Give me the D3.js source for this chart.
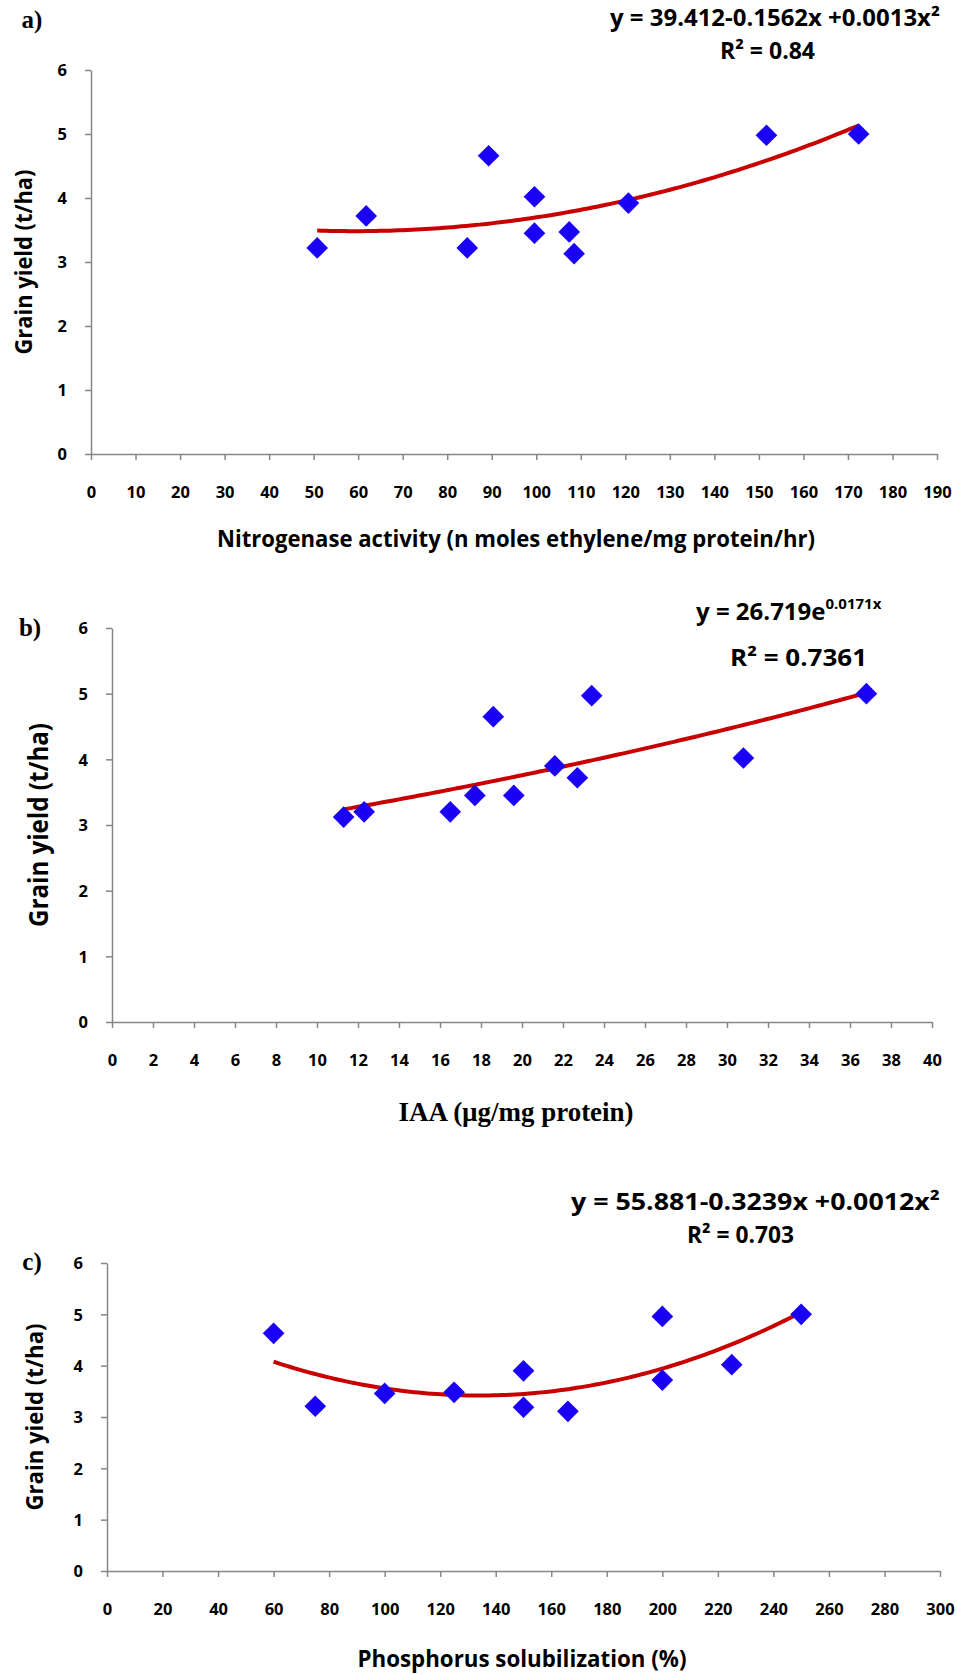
<!DOCTYPE html>
<html>
<head>
<meta charset="utf-8">
<script src="https://cdnjs.cloudflare.com/ajax/libs/d3/7.8.5/d3.min.js"></script>
<style>
body{margin:0;background:#fff;}
svg text{font-family:"Open Sans",sans-serif;font-weight:700;fill:#000;}
</style>
</head>
<body>
<svg id="chart"></svg>
<script>
var WIDTH = 957;
var HEIGHT = 1675;

// grain yield (t/ha) of the 11 treatments against each trait
var nitrogenase = [50.8, 61.8, 84.5, 89.3, 99.6, 99.6, 107.4, 108.5, 120.7, 151.7, 172.4];
var yieldA      = [3.22, 3.72, 3.22, 4.66, 4.02, 3.45, 3.47, 3.13, 3.92, 4.98, 5.0];

var iaa    = [11.3, 12.3, 16.5, 17.7, 18.6, 19.6, 21.6, 22.7, 23.4, 30.8, 36.8];
var yieldB = [3.12, 3.2, 3.2, 3.45, 4.65, 3.45, 3.9, 3.72, 4.97, 4.02, 5.0];

var phosphorus = [60, 75, 100, 125, 150, 150, 166, 200, 200, 225, 250];
var yieldC     = [4.63, 3.21, 3.46, 3.48, 3.9, 3.19, 3.11, 4.96, 3.72, 4.02, 5.0];

var yTicks  = [0, 1, 2, 3, 4, 5, 6];
var xTicksA = [0,10,20,30,40,50,60,70,80,90,100,110,120,130,140,150,160,170,180,190];
var xTicksB = [0,2,4,6,8,10,12,14,16,18,20,22,24,26,28,30,32,34,36,38,40];
var xTicksC = [0,20,40,60,80,100,120,140,160,180,200,220,240,260,280,300];

var svg = d3.select('#chart')
  .attr('width', WIDTH)
  .attr('height', HEIGHT);

// least squares y = c0 + c1 x + c2 x^2 (same as the excel trendline)
var fitPoly2 = function(xs, ys){
  var s = [0,0,0,0,0], t = [0,0,0];
  xs.forEach(function(x, i){
    for (var k = 0; k < 5; k++) s[k] += Math.pow(x, k);
    for (var j = 0; j < 3; j++) t[j] += ys[i] * Math.pow(x, j);
  });
  var m = [[s[0],s[1],s[2],t[0]],[s[1],s[2],s[3],t[1]],[s[2],s[3],s[4],t[2]]];
  for (var c = 0; c < 3; c++){
    for (var r = c + 1; r < 3; r++){
      var f = m[r][c] / m[c][c];
      for (var q = c; q < 4; q++) m[r][q] -= f * m[c][q];
    }
  }
  var b = [0,0,0];
  for (var r2 = 2; r2 >= 0; r2--){
    var v = m[r2][3];
    for (var q2 = r2 + 1; q2 < 3; q2++) v -= m[r2][q2] * b[q2];
    b[r2] = v / m[r2][r2];
  }
  return function(x){ return b[0] + b[1]*x + b[2]*x*x; };
};

// y = a e^(bx), fitted on ln y
var fitExp = function(xs, ys){
  var ly = ys.map(Math.log);
  var mx = d3.mean(xs), my = d3.mean(ly);
  var num = 0, den = 0;
  xs.forEach(function(x, i){ num += (x-mx)*(ly[i]-my); den += (x-mx)*(x-mx); });
  var bb = num/den, aa = Math.exp(my - bb*mx);
  return function(x){ return aa * Math.exp(bb*x); };
};

var panels = [
  {xs: nitrogenase, ys: yieldA, xTicks: xTicksA, fit: fitPoly2,
   left: 91, right: 937, top: 70, bottom: 454,
   label: 'a)', labelX: 32, labelY: 28,
   xTitle: 'Nitrogenase activity (n moles ethylene/mg protein/hr)', xTitleX: 516, xTitleY: 547, xTitleLen: 598, xTitleSize: 24, xTitleSerif: false,
   yTitleX: 32, yTitleLen: 185, yTitleSize: 23},
  {xs: iaa, ys: yieldB, xTicks: xTicksB, fit: fitExp,
   left: 112, right: 932, top: 628, bottom: 1022,
   label: 'b)', labelX: 30, labelY: 636,
   xTitle: 'IAA (µg/mg protein)', xTitleX: 516, xTitleY: 1121, xTitleLen: 235, xTitleSize: 27, xTitleSerif: true,
   yTitleX: 48, yTitleLen: 204, yTitleSize: 26},
  {xs: phosphorus, ys: yieldC, xTicks: xTicksC, fit: fitPoly2,
   left: 107, right: 940, top: 1263, bottom: 1571,
   label: 'c)', labelX: 32, labelY: 1270,
   xTitle: 'Phosphorus  solubilization (%)', xTitleX: 522, xTitleY: 1667, xTitleLen: 329, xTitleSize: 24, xTitleSerif: false,
   yTitleX: 43, yTitleLen: 187, yTitleSize: 23}
];

var AXIS = '#868686';

panels.forEach(function(p){
  var xMax = p.xTicks[p.xTicks.length - 1];
  var xScale = d3.scaleLinear().domain([0, xMax]).range([p.left, p.right]);
  var yScale = d3.scaleLinear().domain([0, 6]).range([p.bottom, p.top]);

  var g = svg.append('g');

  var bottomAxis = d3.axisBottom(xScale).tickValues(p.xTicks).tickFormat(d3.format('d'))
    .tickSizeInner(6).tickSizeOuter(0);
  var gx = g.append('g').attr('transform', 'translate(0,' + p.bottom + ')').call(bottomAxis);
  var leftAxis = d3.axisLeft(yScale).tickValues(yTicks).tickFormat(d3.format('d'))
    .tickSizeInner(6).tickSizeOuter(0);
  var gy = g.append('g').attr('transform', 'translate(' + p.left + ',0)').call(leftAxis);

  [gx, gy].forEach(function(a){
    a.select('.domain').attr('stroke', AXIS).attr('stroke-width', 1.5);
    a.selectAll('.tick line').attr('stroke', AXIS).attr('stroke-width', 1.5);
    a.selectAll('.tick text').style('font-size', '16.5px');
  });
  gx.selectAll('.tick text').attr('y', 38).attr('dy', '0.35em');
  gy.selectAll('.tick text').attr('x', -24).attr('dy', '0.35em');

  // trend line
  var f = p.fit(p.xs, p.ys);
  var x0 = d3.min(p.xs), x1 = d3.max(p.xs);
  var curve = d3.range(121).map(function(i){ var x = x0 + (x1-x0)*i/120; return [x, f(x)]; });
  g.append('path')
    .datum(curve)
    .attr('fill', 'none')
    .attr('stroke', '#c80000')
    .attr('stroke-width', 4)
    .attr('d', d3.line().x(function(d){ return xScale(d[0]); }).y(function(d){ return yScale(d[1]); }));

  // diamonds
  g.selectAll('path.pt')
    .data(p.xs)
    .enter()
    .append('path')
    .attr('class', 'pt')
    .attr('d', d3.symbol(d3.symbolSquare, 235))
    .attr('fill', '#1a00f5')
    .attr('transform', function(d, i){
      return 'translate(' + xScale(d) + ',' + yScale(p.ys[i]) + ') rotate(45)';
    });

  // titles
  g.append('text')
    .attr('x', p.xTitleX).attr('y', p.xTitleY)
    .attr('text-anchor', 'middle')
    .attr('textLength', p.xTitleLen).attr('lengthAdjust', 'spacingAndGlyphs')
    .style('font-size', p.xTitleSize + 'px')
    .style('font-family', p.xTitleSerif ? '"Liberation Serif", serif' : null)
    .text(p.xTitle);

  g.append('text')
    .attr('transform', 'translate(' + p.yTitleX + ',' + ((p.top + p.bottom)/2) + ') rotate(-90)')
    .attr('text-anchor', 'middle')
    .attr('textLength', p.yTitleLen).attr('lengthAdjust', 'spacingAndGlyphs')
    .style('font-size', p.yTitleSize + 'px')
    .text('Grain yield (t/ha)');

  g.append('text')
    .attr('x', p.labelX).attr('y', p.labelY)
    .attr('text-anchor', 'middle')
    .style('font-family', '"Liberation Serif", serif')
    .style('font-size', '25px')
    .text(p.label);
});

// trendline equations as printed on the figure
var eqA = 'y = 39.412-0.1562x +0.0013x²';
var r2A = 'R² = 0.84';
var eqBBase = 'y = 26.719e';
var eqBExp = '0.0171x';
var r2B = 'R² = 0.7361';
var eqC = 'y = 55.881-0.3239x +0.0012x²';
var r2C = 'R² = 0.703';

var addText = function(str, x, y, len, size){
  return svg.append('text').attr('x', x).attr('y', y)
    .attr('textLength', len).attr('lengthAdjust', 'spacingAndGlyphs')
    .style('font-size', size + 'px')
    .text(str);
};

addText(eqA, 610, 26, 330, 24);
addText(r2A, 720, 59, 95, 24);

var tb = svg.append('text').attr('x', 696).attr('y', 620).style('font-size', '24px');
tb.append('tspan').text(eqBBase);
tb.append('tspan').attr('dy', -11).style('font-size', '15px').text(eqBExp);
addText(r2B, 730, 666, 137, 24);

addText(eqC, 571, 1210, 369, 24);
addText(r2C, 687, 1243, 107, 24);
</script>
</body>
</html>
